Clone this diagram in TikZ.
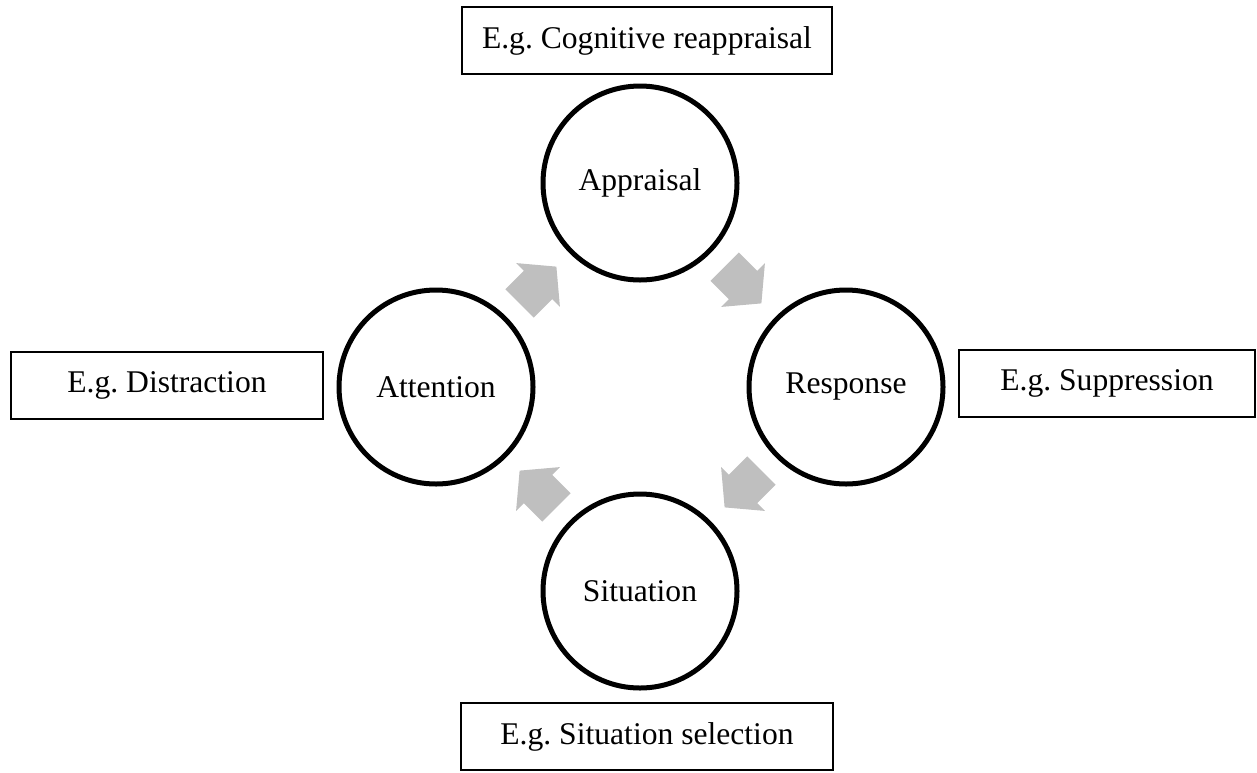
\documentclass[tikz,border=0pt]{standalone}
\usepackage{fontspec}
\setmainfont{Liberation Serif}
\usetikzlibrary{calc}
\definecolor{arrowgray}{HTML}{BFBFBF}
\frenchspacing
\begin{document}
\begin{tikzpicture}[x=0.5pt,y=-0.5pt,
    stage/.style={draw, circle, line width=2.5pt, minimum size=97pt, inner sep=0pt,
      font=\fontsize{15.8}{19}\selectfont},
    example/.style={draw, line width=1pt, inner sep=0pt, minimum height=33.5pt,
      font=\fontsize{15.8}{19}\selectfont},
    flow/.pic={\fill[arrowgray] (-26,-20) -- (0,-20) -- (0,-31) -- (26,0) -- (0,31) -- (0,20) -- (-26,20) -- cycle;}]
    \useasboundingbox (0,0) rectangle (1257,772);
    % the four stages
    \node[stage] (app) at (640,183) {Appraisal};
    \node[stage] (res) at (846,387) {Response};
    \node[stage] (sit) at (640,591) {Situation};
    \node[stage] (att) at (436,387) {Attention};
    % strategies
    \node[example, minimum width=185pt] (eapp) at (647,40.5) {E.g. Cognitive reappraisal};
    \node[example, minimum width=148pt] (eres) at (1107,383.5) {E.g. Suppression};
    \node[example, minimum width=186pt] (esit) at (647,736.5) {E.g. Situation selection};
    \node[example, minimum width=156pt] (eatt) at (167,385) {E.g. Distraction};
    % cycle arrows
    \pic[rotate=45] at ($(att)!.5!(app)$) {flow};
    \pic[rotate=-45] at ($(app)!.5!(res)$) {flow};
    \pic[rotate=-135] at ($(res)!.5!(sit)$) {flow};
    \pic[rotate=135] at ($(sit)!.5!(att)$) {flow};
  \end{tikzpicture}
\end{document}
